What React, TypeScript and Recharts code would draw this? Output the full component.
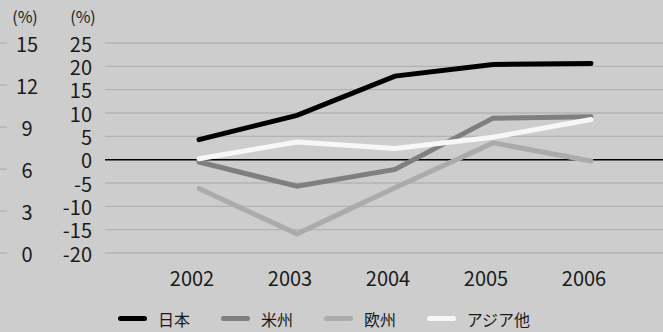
import React from 'react';
import { LineChart, Line, XAxis, YAxis, CartesianGrid, ReferenceLine, Legend } from 'recharts';

// Year-on-year change by region (%)
const years = ['2002', '2003', '2004', '2005', '2006'];
const japan = [4.3, 9.5, 17.9, 20.4, 20.6];
const americas = [-0.5, -5.7, -2.1, 8.9, 9.2];
const europe = [-6.2, -15.9, -6.0, 3.6, -0.3];
const asiaOther = [0.2, 3.8, 2.4, 4.8, 8.6];

const mainTicks = [-20, -15, -10, -5, 0, 5, 10, 15, 20, 25];
const outerTicks = [0, 3, 6, 9, 12, 15];

const seriesKeys = ['japan', 'americas', 'europe', 'asiaOther'];
const seriesNames = ['日本', '米州', '欧州', 'アジア他'];
const seriesColors = ['#000000', '#7f7f7f', '#ababab', '#f7f7f7'];

const data = years.map((year, i) => ({
  year,
  japan: japan[i],
  americas: americas[i],
  europe: europe[i],
  asiaOther: asiaOther[i],
}));

const FONT = '"Noto Sans CJK JP", "Noto Sans", sans-serif';
const TEXT = '#1a1a1a';
const BG = '#cdcdcd';

const renderOuterTick = (props: any) => {
  const { y, payload } = props;
  return (
    <g key={`o-${payload.value}`}>
      <line x1={0} x2={7} y1={y} y2={y} stroke="#a8a8a8" strokeWidth={1} />
      <text x={27} y={y} textAnchor="middle" dominantBaseline="central" fontSize={20} fill={TEXT} fontFamily={FONT}>
        {payload.value}
      </text>
    </g>
  );
};

const renderMainTick = (props: any) => {
  const { y, payload } = props;
  return (
    <text key={`m-${payload.value}`} x={92} y={y} textAnchor="end" dominantBaseline="central" fontSize={20} fill={TEXT} fontFamily={FONT}>
      {payload.value}
    </text>
  );
};

const LegendContent = (props: any) => {
  const payload = [...(props.payload || [])].sort(
    (a: any, b: any) => seriesNames.indexOf(a.value) - seriesNames.indexOf(b.value)
  );
  return (
    <div style={{ height: 33, display: 'flex', alignItems: 'center', paddingLeft: 118, paddingTop: 6, boxSizing: 'border-box' }}>
      {payload.map((entry: any) => (
        <div key={entry.value} style={{ width: 103, display: 'flex', alignItems: 'center' }}>
          <span style={{ display: 'inline-block', width: 29, height: 5, borderRadius: 3, background: entry.color }} />
          <span style={{ marginLeft: 11, fontSize: 16, color: TEXT, fontFamily: FONT, whiteSpace: 'nowrap', lineHeight: '16px' }}>
            {entry.value}
          </span>
        </div>
      ))}
    </div>
  );
};

export default function App() {
  return (
    <div style={{ position: 'absolute', left: 0, top: 0, width: 663, height: 332, background: BG, fontFamily: FONT }}>
      <div style={{ position: 'absolute', left: 12, top: 6, width: 26, textAlign: 'center', fontSize: 16, color: TEXT, lineHeight: '20px' }}>(%)</div>
      <div style={{ position: 'absolute', left: 70, top: 6, width: 26, textAlign: 'center', fontSize: 16, color: TEXT, lineHeight: '20px' }}>(%)</div>
      <LineChart width={663} height={332} data={data} margin={{ top: 43, right: 0, bottom: 0, left: 0 }}>
        <CartesianGrid yAxisId="main" vertical={false} stroke="#b3b3b3" strokeWidth={1.3} />
        <XAxis
          dataKey="year"
          padding={{ left: 94, right: 72 }}
          axisLine={false}
          tickLine={false}
          tickSize={0}
          tickMargin={19}
          height={46}
          tick={{ fontSize: 20, fill: TEXT, fontFamily: FONT, dx: -7 }}
        />
        <YAxis
          yAxisId="outer"
          type="number"
          width={50}
          domain={[0, 15]}
          ticks={outerTicks}
          allowDataOverflow
          axisLine={false}
          tickLine={false}
          tick={renderOuterTick}
          interval={0}
        />
        <YAxis
          yAxisId="main"
          type="number"
          width={55}
          domain={[-20, 25]}
          ticks={mainTicks}
          axisLine={false}
          tickLine={false}
          tick={renderMainTick}
          interval={0}
        />
        <ReferenceLine yAxisId="main" y={0} stroke="#000000" strokeWidth={1.5} />
        {seriesKeys.map((k, i) => (
          <Line
            key={k}
            yAxisId="main"
            type="linear"
            dataKey={k}
            name={seriesNames[i]}
            stroke={seriesColors[i]}
            strokeWidth={5}
            strokeLinecap="round"
            dot={false}
            activeDot={false}
            isAnimationActive={false}
          />
        ))}
        <Legend
          verticalAlign="bottom"
          align="left"
          content={<LegendContent />}
          wrapperStyle={{ left: 0, width: 663 }}
        />
      </LineChart>
    </div>
  );
}
